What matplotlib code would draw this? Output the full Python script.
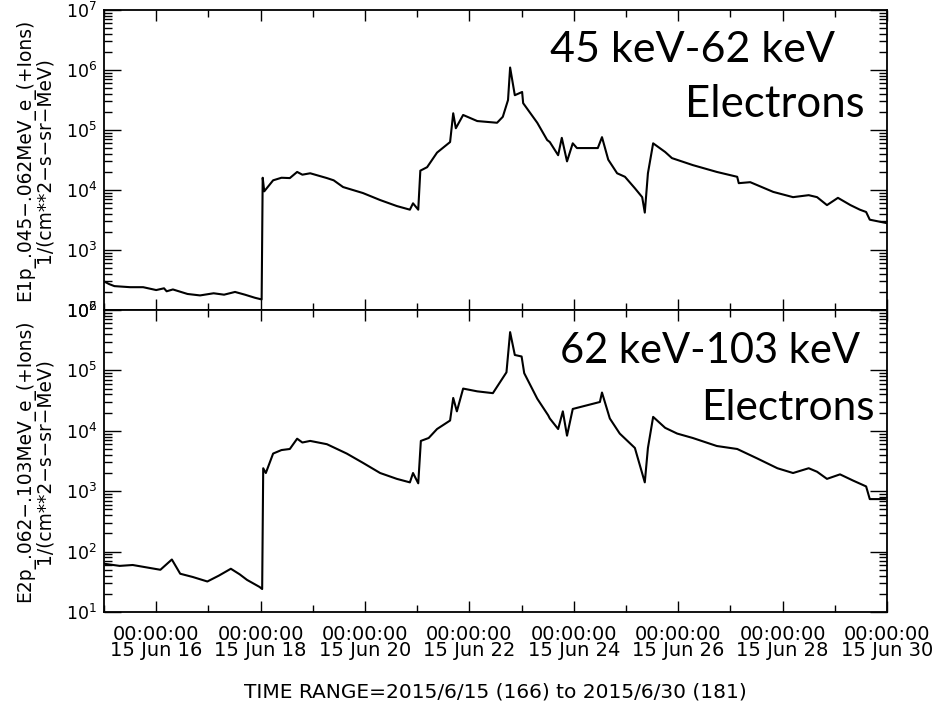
import matplotlib
matplotlib.use('Agg')
import matplotlib.pyplot as plt
from matplotlib.ticker import NullFormatter, FixedLocator

# time in days since 2015-06-15 00:00, flux in 1/(cm**2-s-sr-MeV)
t_e1 = [0.00, 0.10, 0.20, 0.50, 0.75, 1.00, 1.15, 1.20, 1.32, 1.60, 1.84, 2.10, 2.30, 2.51, 2.70, 2.89, 3.02,
        3.04, 3.07, 3.24, 3.40, 3.56, 3.70, 3.80, 3.95, 4.27, 4.40, 4.58, 4.96, 5.29, 5.61, 5.86, 5.92, 6.02,
        6.06, 6.19, 6.38, 6.63, 6.69, 6.74, 6.88, 7.15, 7.53, 7.64, 7.74, 7.78, 7.87, 8.01,
        8.03, 8.30, 8.49, 8.54, 8.70, 8.77, 8.87, 8.98, 9.06, 9.46, 9.54, 9.66, 9.83, 9.98,
        10.17, 10.31, 10.36, 10.42, 10.52, 10.75, 10.88, 11.28, 11.74, 12.13, 12.16, 12.38, 12.82,
        13.20, 13.50, 13.66, 13.85, 14.06, 14.30, 14.48, 14.60, 14.67, 15.00]
f_e1 = [300, 270, 250, 240, 240, 215, 230, 205, 220, 185, 175, 190, 180, 200, 180, 160, 150,
        16000, 9500, 14500, 16000, 15800, 20000, 18000, 19000, 15800, 14500, 11200, 8900, 6800, 5400, 4700, 6000, 4700,
        21000, 24000, 42000, 63000, 190000, 107000, 178000, 141000, 132000, 166000, 316000, 1100000, 380000, 430000,
        280000, 132000, 68000, 63000, 38000, 74000, 30000, 60000, 50000, 50000, 76000, 32000, 19000, 16600,
        10700, 7600, 4200, 19000, 60000, 43000, 34000, 26000, 20000, 16600, 13000, 13500, 9300,
        7600, 8200, 7600, 5600, 7400, 5600, 4700, 4300, 3200, 2800]

t_e2 = [0.00, 0.30, 0.55, 1.08, 1.30, 1.46, 1.70, 1.98, 2.20, 2.43, 2.60, 2.74, 2.98, 3.03,
        3.05, 3.10, 3.24, 3.40, 3.56, 3.70, 3.80, 3.95, 4.27, 4.65, 4.96, 5.29, 5.61, 5.86, 5.92, 6.02,
        6.07, 6.22, 6.38, 6.63, 6.69, 6.76, 6.88, 7.15, 7.45, 7.71, 7.78, 7.87, 8.00, 8.05,
        8.30, 8.51, 8.54, 8.70, 8.79, 8.87, 8.98, 9.50, 9.54, 9.69, 9.88, 10.17, 10.36, 10.42,
        10.52, 10.75, 10.98, 11.28, 11.74, 12.13, 12.51, 12.90, 13.20, 13.50, 13.66, 13.85, 14.10,
        14.35, 14.60, 14.67, 14.96]
f_e2 = [63, 58, 60, 50, 74, 43, 38, 32, 40, 52, 42, 34, 26, 24,
        2400, 2000, 4200, 4800, 5000, 7400, 6400, 6800, 6000, 4200, 2950, 2000, 1600, 1400, 2000, 1350,
        6800, 7600, 10700, 14800, 35000, 21000, 50000, 45000, 42000, 93000, 430000, 180000, 170000, 90000,
        34000, 18000, 16000, 10700, 21000, 8300, 23000, 30000, 43000, 16000, 9000, 5200, 1400, 5200,
        17000, 11200, 9000, 7600, 5600, 5000, 3500, 2400, 2000, 2400, 2100, 1600, 1900,
        1500, 1200, 740, 740]

major_days = [1, 3, 5, 7, 9, 11, 13, 15]
minor_days = [0, 2, 4, 6, 8, 10, 12, 14]
tick_labels = ['00:00:00\n15 Jun 16', '00:00:00\n15 Jun 18', '00:00:00\n15 Jun 20',
               '00:00:00\n15 Jun 22', '00:00:00\n15 Jun 24', '00:00:00\n15 Jun 26',
               '00:00:00\n15 Jun 28', '00:00:00\n15 Jun 30']

W, H = 943, 706
fig = plt.figure(figsize=(W / 100, H / 100), dpi=100)
ax1 = fig.add_axes([104 / W, 1 - 310 / H, 783 / W, 300 / H])
ax2 = fig.add_axes([104 / W, 1 - 612 / H, 783 / W, 302 / H])

panels = [
    (ax1, t_e1, f_e1, (2, 7), 'E1p_.045\u2212.062MeV_e_(+Ions)\n1/(cm**2\u2212s\u2212sr\u2212MeV)'),
    (ax2, t_e2, f_e2, (1, 6), 'E2p_.062\u2212.103MeV_e_(+Ions)\n1/(cm**2\u2212s\u2212sr\u2212MeV)'),
]

for ax, t, f, (lo, hi), ylab in panels:
    ax.plot(t, f, color='black', lw=1.5)
    ax.set_yscale('log')
    ax.set_xlim(0, 15)
    ax.set_ylim(10 ** lo, 10 ** hi)
    ax.yaxis.set_major_locator(FixedLocator([10.0 ** k for k in range(lo, hi + 1)]))
    ax.yaxis.set_minor_locator(FixedLocator([m * 10.0 ** k for k in range(lo, hi) for m in range(2, 10)]))
    ax.yaxis.set_minor_formatter(NullFormatter())
    ax.xaxis.set_major_locator(FixedLocator(major_days))
    ax.xaxis.set_minor_locator(FixedLocator(minor_days))
    ax.tick_params(which='both', direction='in', top=True, right=True, width=1.0)
    ax.tick_params(axis='y', which='major', length=12, labelsize=12.5, pad=5)
    ax.tick_params(axis='y', which='minor', length=6)
    ax.tick_params(axis='x', which='major', length=8)
    ax.tick_params(axis='x', which='minor', length=5)
    for s in ax.spines.values():
        s.set_linewidth(1.3)
    ax.set_ylabel(ylab, fontsize=13.4, linespacing=1.0)
    ax.yaxis.set_label_coords(-0.064, 0.5)

ax1.set_xticklabels([])
ax2.set_xticklabels(tick_labels, fontsize=14)
for lab in ax2.get_xticklabels():
    lab.set_linespacing(0.85)
ax2.tick_params(axis='x', which='major', pad=9)

fig.text(495 / W, 1 - 697 / H, 'TIME RANGE=2015/6/15 (166) to 2015/6/30 (181)',
         ha='center', va='baseline', fontsize=14.5)

def px(x, y):
    return x / W, 1 - y / H

ann = dict(ha='right', va='baseline', family='Lato')
fig.text(*px(835, 62), '45 keV-62 keV', fontsize=31, **ann)
fig.text(*px(865, 117), 'Electrons', fontsize=31.5, **ann)
fig.text(*px(860, 363), '62 keV-103 keV', fontsize=30, **ann)
fig.text(*px(875, 420), 'Electrons', fontsize=30.5, **ann)

fig.savefig('out.png', dpi=100)
